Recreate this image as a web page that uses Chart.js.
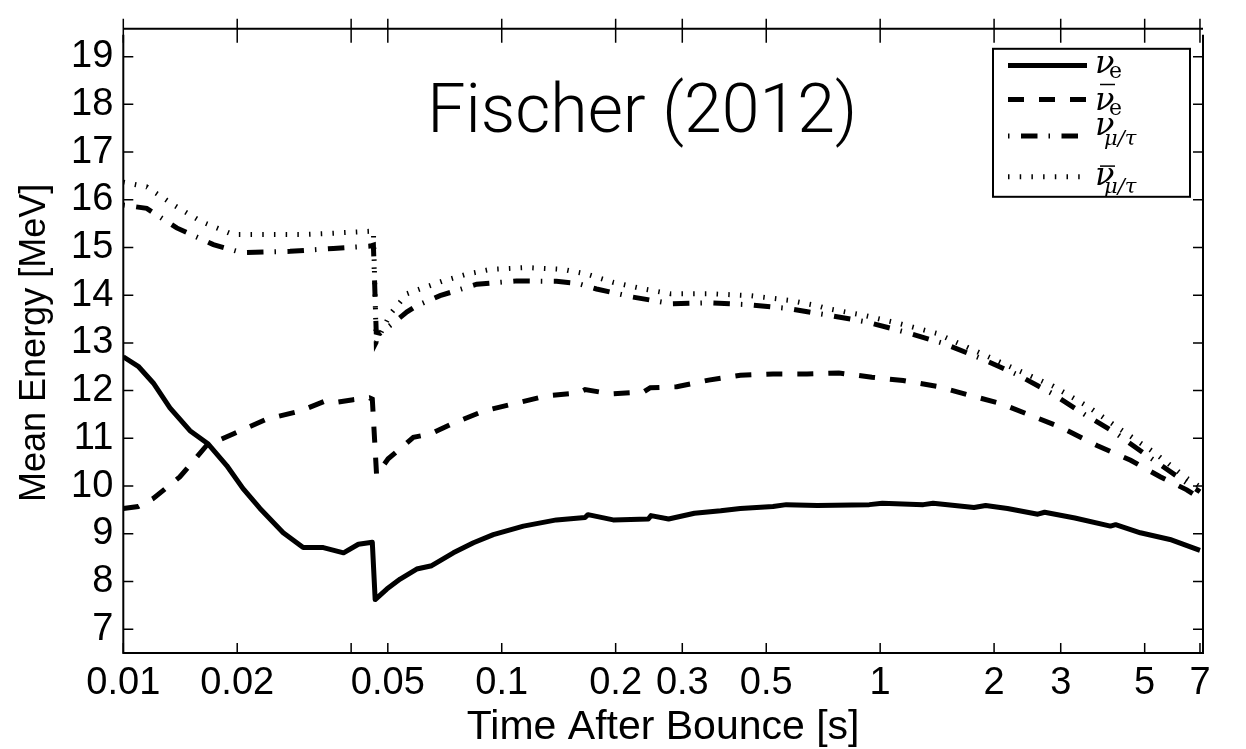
<!DOCTYPE html>
<html>
<head>
<meta charset="utf-8">
<script src="https://cdn.jsdelivr.net/npm/chart.js@4.4.1/dist/chart.umd.min.js"></script>
<style>
  html, body { margin: 0; padding: 0; background: #fff; }
  canvas { display: block; }
</style>
</head>
<body>
<canvas id="chart" width="1246" height="749"></canvas>
<script>
// time after bounce [s] and mean energy [MeV]
const tNuE = [0.01, 0.01095, 0.012, 0.01328, 0.015, 0.01677, 0.01876, 0.0207, 0.02297, 0.02646, 0.02988, 0.03378, 0.0382, 0.0418, 0.0455, 0.0463, 0.0497, 0.0539, 0.0596, 0.0653, 0.0745, 0.0842, 0.095, 0.1141, 0.1395, 0.166, 0.169, 0.197, 0.244, 0.248, 0.276, 0.323, 0.379, 0.427, 0.521, 0.565, 0.682, 0.936, 1.013, 1.3, 1.38, 1.77, 1.9, 2.17, 2.61, 2.72, 3.27, 4.06, 4.19, 4.87, 5.83, 7.0];
const eNuE = [12.71, 12.51, 12.16, 11.64, 11.16, 10.88, 10.43, 9.95, 9.53, 9.02, 8.71, 8.71, 8.6, 8.78, 8.82, 7.62, 7.84, 8.05, 8.26, 8.33, 8.6, 8.81, 8.98, 9.16, 9.29, 9.34, 9.4, 9.29, 9.31, 9.38, 9.31, 9.43, 9.48, 9.53, 9.57, 9.61, 9.59, 9.61, 9.64, 9.61, 9.64, 9.55, 9.59, 9.53, 9.41, 9.45, 9.33, 9.16, 9.19, 9.02, 8.88, 8.65];

const tNuEbar = [0.01, 0.01095, 0.012, 0.0141, 0.0166, 0.0195, 0.0239, 0.0293, 0.0341, 0.0362, 0.0405, 0.0447, 0.0455, 0.0467, 0.0501, 0.0539, 0.0584, 0.0648, 0.0737, 0.0894, 0.1085, 0.1314, 0.159, 0.166, 0.195, 0.237, 0.247, 0.29, 0.352, 0.427, 0.521, 0.641, 0.778, 0.951, 1.15, 1.41, 1.71, 2.08, 2.5, 3.0, 3.74, 4.59, 5.51, 6.46, 7.0];
const eNuEbar = [9.53, 9.57, 9.74, 10.19, 10.85, 11.09, 11.4, 11.57, 11.78, 11.75, 11.81, 11.85, 11.82, 10.23, 10.57, 10.78, 11.02, 11.09, 11.3, 11.57, 11.73, 11.89, 11.95, 12.02, 11.93, 11.97, 12.06, 12.08, 12.22, 12.32, 12.35, 12.35, 12.37, 12.28, 12.21, 12.09, 11.91, 11.73, 11.48, 11.23, 10.85, 10.54, 10.19, 9.92, 9.74];

const tNuX = [0.01, 0.01153, 0.01384, 0.0173, 0.0206, 0.0276, 0.0359, 0.0449, 0.0458, 0.0466, 0.0477, 0.0508, 0.0562, 0.0596, 0.0687, 0.0859, 0.1095, 0.1395, 0.158, 0.178, 0.222, 0.282, 0.356, 0.452, 0.572, 0.73, 0.92, 1.16, 1.47, 1.84, 2.31, 2.83, 3.47, 4.17, 5.01, 6.2, 7.0];
const eNuX = [15.89, 15.82, 15.41, 15.06, 14.89, 14.92, 14.98, 15.03, 15.05, 13.22, 13.2, 13.37, 13.65, 13.78, 13.99, 14.23, 14.3, 14.29, 14.25, 14.13, 13.96, 13.82, 13.84, 13.8, 13.72, 13.58, 13.44, 13.23, 12.99, 12.68, 12.33, 11.95, 11.5, 11.12, 10.67, 10.16, 9.88];

const tNuXbar = [0.01, 0.01153, 0.0136, 0.016, 0.0195, 0.0239, 0.0293, 0.0359, 0.0449, 0.0458, 0.0466, 0.0508, 0.0562, 0.0609, 0.0701, 0.0808, 0.0932, 0.1165, 0.1456, 0.168, 0.197, 0.237, 0.279, 0.356, 0.454, 0.579, 0.681, 0.723, 0.904, 1.13, 1.41, 1.8, 2.25, 2.87, 3.52, 4.31, 5.28, 6.47, 7.0];
const eNuXbar = [16.37, 16.27, 15.89, 15.55, 15.27, 15.27, 15.27, 15.3, 15.34, 15.36, 13.02, 13.61, 14.03, 14.13, 14.3, 14.44, 14.54, 14.58, 14.54, 14.44, 14.27, 14.13, 14.03, 14.03, 13.99, 13.89, 13.78, 13.72, 13.58, 13.4, 13.2, 12.82, 12.47, 12.09, 11.68, 11.19, 10.71, 10.16, 9.98];

const xTickValues = [0.01, 0.02, 0.04, 0.05, 0.1, 0.2, 0.3, 0.5, 1, 2, 3, 5, 7];
const xTickLabels = ['0.01', '0.02', '', '0.05', '0.1', '0.2', '0.3', '0.5', '1', '2', '3', '5', '7'];
const yTickValues = [7, 8, 9, 10, 11, 12, 13, 14, 15, 16, 17, 18, 19];

const legendSub = ['e', 'e', 'μ/τ', 'μ/τ'];
const legendBar = [false, true, false, true];

const SANS = "'Liberation Sans', Helvetica, Arial, sans-serif";
const SERIF = "'DejaVu Serif', 'Liberation Serif', serif";

function zip(xs, ys) {
    return xs.map((x, i) => ({ x, y: ys[i] }));
}

const framePlugin = {
    id: 'frame',
    afterDraw(chart) {
        const { ctx, chartArea: a, scales } = chart;
        const xs = scales.x;
        const ys = scales.y;

        ctx.save();
        ctx.setLineDash([]);
        ctx.strokeStyle = '#000';
        ctx.lineCap = 'butt';

        // axes box
        ctx.lineWidth = 2;
        ctx.beginPath();
        ctx.moveTo(a.left, a.top + 2);
        ctx.lineTo(a.left, a.bottom);
        ctx.lineTo(a.right, a.bottom);
        ctx.lineTo(a.right, a.top + 2);
        ctx.moveTo(a.left, a.top - 4);
        ctx.lineTo(a.right, a.top - 4);
        ctx.stroke();

        // inward ticks
        ctx.lineWidth = 1.5;
        ctx.beginPath();
        xTickValues.forEach((v) => {
            const px = xs.getPixelForValue(v);
            ctx.moveTo(px, a.bottom);
            ctx.lineTo(px, a.bottom - 10);
            ctx.moveTo(px, a.top - 14);
            ctx.lineTo(px, a.top + 10);
        });
        yTickValues.forEach((v) => {
            const py = ys.getPixelForValue(v);
            ctx.moveTo(a.left, py);
            ctx.lineTo(a.left + 10, py);
            ctx.moveTo(a.right, py);
            ctx.lineTo(a.right - 10, py);
        });
        ctx.stroke();

        // title inside the axes
        ctx.fillStyle = '#000';
        ctx.font = '300 68px Roboto, ' + SANS;
        ctx.textAlign = 'left';
        ctx.textBaseline = 'alphabetic';
        ctx.fillText('Fischer (2012)', a.left + 304, a.top + 99);

        // legend
        const bx = a.right - 210;
        const by = a.top + 16;
        ctx.fillStyle = '#fff';
        ctx.fillRect(bx, by, 197, 148);
        ctx.lineWidth = 2;
        ctx.strokeRect(bx, by, 197, 148);

        const lineY = [16.7, 50.7, 87.3, 128];
        const nuY = [24, 60.7, 85.7, 135.7];
        const subY = [29, 65.7, 95.7, 144];
        const barY = [0, 35.7, 0, 117.3];

        chart.data.datasets.forEach((ds, i) => {
            ctx.save();
            ctx.strokeStyle = ds.borderColor;
            ctx.lineWidth = ds.borderWidth;
            ctx.setLineDash(ds.borderDash || []);
            ctx.lineCap = 'butt';
            ctx.beginPath();
            ctx.moveTo(bx + 15, by + lineY[i]);
            ctx.lineTo(bx + 94, by + lineY[i]);
            ctx.stroke();
            ctx.restore();

            const nx = bx + 102;
            ctx.fillStyle = '#000';
            ctx.textAlign = 'left';
            ctx.textBaseline = 'alphabetic';
            ctx.font = 'italic 32px ' + SERIF;
            ctx.fillText('ν', nx, by + nuY[i]);
            if (legendBar[i]) {
                ctx.lineWidth = 1.5;
                ctx.setLineDash([]);
                ctx.beginPath();
                ctx.moveTo(nx + 5, by + barY[i]);
                ctx.lineTo(nx + 20, by + barY[i]);
                ctx.stroke();
            }
            if (legendSub[i] === 'e') {
                ctx.font = '22px ' + SERIF;
                ctx.fillText(legendSub[i], nx + 14, by + subY[i]);
            } else {
                ctx.font = 'italic 21px ' + SERIF;
                ctx.fillText(legendSub[i], nx + 9, by + subY[i]);
            }
        });

        ctx.restore();
    }
};

const lineStyle = { borderColor: '#000', borderWidth: 5, pointRadius: 0, fill: false, tension: 0, borderCapStyle: 'butt' };

new Chart(document.getElementById('chart'), {
    type: 'line',
    data: {
        datasets: [
            { ...lineStyle, label: 'nu_e', data: zip(tNuE, eNuE), borderDash: [], borderJoinStyle: 'round' },
            { ...lineStyle, label: 'nubar_e', data: zip(tNuEbar, eNuEbar), borderDash: [16, 15] },
            { ...lineStyle, label: 'nu_mu/tau', data: zip(tNuX, eNuX), borderDash: [1.5, 11.5, 16.5, 11] },
            { ...lineStyle, label: 'nubar_mu/tau', data: zip(tNuXbar, eNuXbar), borderDash: [1.5, 10.2] }
        ]
    },
    options: {
        responsive: false,
        animation: false,
        layout: { padding: { top: 26, right: 43, left: 0, bottom: 0 } },
        plugins: {
            legend: { display: false },
            tooltip: { enabled: false }
        },
        scales: {
            x: {
                type: 'logarithmic',
                min: 0.01,
                max: 7.13,
                grid: { display: false, drawTicks: false },
                border: { display: false },
                afterBuildTicks: (scale) => {
                    scale.ticks = xTickValues.map((v) => ({ value: v }));
                },
                afterFit: (scale) => {
                    scale.height = 96;
                },
                ticks: {
                    autoSkip: false,
                    maxRotation: 0,
                    padding: 8,
                    color: '#000',
                    font: { family: SANS, size: 38, lineHeight: 1.2 },
                    callback: (value) => {
                        const i = xTickValues.indexOf(value);
                        return i >= 0 ? xTickLabels[i] : '';
                    }
                },
                title: {
                    display: true,
                    text: 'Time After Bounce [s]',
                    color: '#000',
                    font: { family: SANS, size: 41, lineHeight: 1 },
                    padding: { top: 0, bottom: 1 }
                }
            },
            y: {
                type: 'linear',
                min: 6.5,
                max: 19.5,
                grid: { display: false, drawTicks: false },
                border: { display: false },
                afterBuildTicks: (scale) => {
                    scale.ticks = yTickValues.map((v) => ({ value: v }));
                },
                afterFit: (scale) => {
                    scale.width = 123.3;
                },
                ticks: {
                    padding: 10,
                    color: '#000',
                    font: { family: SANS, size: 38 }
                },
                title: {
                    display: true,
                    text: 'Mean Energy [MeV]',
                    color: '#000',
                    font: { family: SANS, size: 36, lineHeight: 1 },
                    padding: { top: 17, bottom: 0 }
                }
            }
        }
    },
    plugins: [framePlugin]
});
</script>
</body>
</html>
